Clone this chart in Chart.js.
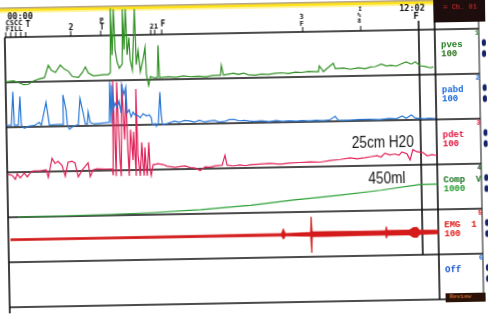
<!DOCTYPE html>
<html>
<head>
<meta charset="utf-8">
<script src="https://cdn.jsdelivr.net/npm/chart.js@4.4.1/dist/chart.umd.min.js"></script>
<style>
  html, body { margin: 0; padding: 0; background: #fff; overflow: hidden; }
  #sheet { position: absolute; left: 0; top: 0; width: 488px; height: 314px;
           transform: rotate(-1.05deg); transform-origin: 244px 157px; }
  #sheet canvas { position: absolute; left: 0; top: 0; }
  .t { position: absolute; white-space: pre; line-height: 1; font-weight: bold;
       font-family: "Liberation Mono", monospace; }
  .h { font-family: "DejaVu Sans Mono", monospace; color: #111; }
  .note { position: absolute; white-space: pre; line-height: 17px; font-size: 17px;
          font-family: "Liberation Sans", sans-serif; color: #151515;
          transform: scaleX(0.8); transform-origin: 0 0; }
</style>
</head>
<body>
<div id="sheet">
  <canvas id="trace" width="488" height="314"></canvas>
</div>
<script>
// time axis = seconds-ish from start of filling, one unit per trace pixel
const pvesT = [0,8,13,18,23,27,33,39,43,46, 50,55,59,63,67,73,77,80,83,88,
  98,103,105,106,107,109,110,112,114,117, 118,119,121,122,124,125,127,130,131,133,
  135,138,140,141,143,145,149,152,153,154, 163,170,178,185,193,200,208,215,216,218,
  223,228,233,238,243,250,256,263,270,276, 283,290,296,303,313,314,318,325,328,330,
  338,345,353,360,365,370,376,381,386,391, 396,401,406,410,415,420,425,428];
const pvesV = [1,3,-1,-6,-5,1,6,9,36,25, 20,36,27,22,10,8,19,31,17,11,
  13,13,18,160,56,158,68,40,27,36, 158,68,158,56,95,45,22,158,34,65,
  18,47,72,11,-13,7,4,4,76,4, 6,4,7,5,6,4,7,7,29,7,
  9,11,8,11,7,6,8,7,9,10, 8,11,10,12,11,24,11,24,29,17,
  18,15,18,16,19,20,25,21,22,20, 25,29,24,29,20,18,15,17];

const pabdT = [0,5,7,8,12,14,15,18,23,28, 33,35,40,42,43,51,56,57,60,61,
  63,67,72,74,77,79,81,82,84,88, 98,103,104,105,106,107,109,111,113,115,
  116,118,120,121,123,125,127,129,131,134, 137,140,143,145,146,149,150,152,154,155,
  156,161,168,173,178,183,188,193,198,203, 208,213,218,223,228,233,238,243,248,255,
  263,270,276,283,290,296,303,310,316,323, 329,332,343,353,363,373,383,390,396,400,
  405,409,413,418,423,429];
const pabdV = [4,4,79,4,4,68,4,-3,2,3, 10,3,54,22,3,4,4,70,36,4,
  -7,0,3,61,29,4,4,31,7,4, 6,7,97,4,90,34,50,40,54,27,
  90,68,85,27,34,18,29,22,22,16, 25,20,22,16,0,2,-4,2,72,22,
  0,2,7,4,8,7,4,8,4,6, 7,3,4,8,8,5,6,4,3,4,
  2,4,2,3,2,3,2,3,2,3, 11,2,2,3,3,2,4,3,9,4,
  11,4,3,2,3,2];

const pdetT = [0,5,8,10,13,17,20,23,26,33, 39,41,45,48,51,55,58,61,65,68,
  71,75,81,83,86,90,98,105,106,107, 109,111,113,114,116,118,120,121,122,124,
  126,127,129,130,131,133,135,136,137,138, 139,140,142,143,144,146,151,156,160,168,
  173,178,183,188,193,198,203,208,215,218, 220,226,233,238,243,253,263,273,283,293,
  303,313,323,333,343,350,358,364,370,374, 378,383,388,392,395,400,403,406,410,416,
  420,425,430];
const pdetV = [-4,-7,-16,-4,-13,-2,-11,-2,2,2, 4,-13,29,18,22,13,-11,20,22,18,
  -13,2,18,-13,2,4,3,3,-11,200, -13,196,22,-13,191,68,175,45,-13,90,
  22,85,-13,180,34,-13,61,11,-13,50, 11,-13,61,0,-13,11,13,11,7,4,
  6,7,3,2,-4,4,3,6,7,29, 7,5,7,5,7,8,9,7,9,10,
  11,10,13,15,18,16,18,20,22,19, 27,23,25,22,29,25,11,34,29,27,
  20,22,20];

const compT = [10,53,103,143,193,243,286,333,373,413,430];
const compV = [0,9,18,36,72,135,216,288,360,450,450];   // ml

const emgT  = [2,93,143,193,243,273,275,277,298,302,303,304,323,353,377,378,379,401,405,409,411,430];
const emgHi = [4,4,5,5,6,6,27,6,8,8,78,11,11,10,10,28,11,11,22,22,10,8];
const emgLo = [-4,-4,-5,-5,-6,-6,-20,-6,-8,-8,-82,-11,-11,-10,-10,-24,-11,-11,-22,-22,-10,-8];

const eventT = 414;   // 12:02 marker
const markT = [1,6,11,16,21,66,96,146,150,157,298,356];

const laneIds = ['y1','y2','y3','y4','y5','y6'];
const chNames = ['pves','pabd','pdet','Comp  V','EMG  1','Off'];
const chRanges = ['100','100','100','1000','100',''];
const chColors = ['#1f7d1f','#1565d8','#e0103c','#17701f','#e01616','#1a55cc'];
const chRangeColors = ['#266d16','#1565d8','#e0103c','#1f9a2a','#e01616',''];
const chNumColors = ['#1f8a1f','#1a6ad8','#e0103c','#1a4a1a','#e01616','#1a6ad8'];

function pts(t, v) { return t.map((x, i) => ({x: x, y: v[i]})); }

const frame = {
  id: 'frame',
  beforeDatasetsDraw(chart) {
    const {ctx, chartArea: a, scales} = chart;
    const panelR = 481;
    ctx.save();
    // yellow paper edge at top
    ctx.fillStyle = '#6b4a12'; ctx.fillRect(0, 3.5, a.right, 1);
    ctx.fillStyle = '#ffe21a'; ctx.fillRect(0, 4.5, a.right, 3);
    ctx.fillStyle = '#fff7a8'; ctx.fillRect(0, 7.5, a.right, 1.5);
    ctx.fillStyle = '#1e0d0d'; ctx.fillRect(a.right - 1, -6, 60, 32);

    ctx.strokeStyle = '#111';
    ctx.lineWidth = 1.6;
    ctx.beginPath();
    ctx.moveTo(a.left, a.top); ctx.lineTo(panelR, a.top);
    laneIds.forEach(id => {
      const y = scales[id].bottom;
      ctx.moveTo(a.left, y); ctx.lineTo(panelR, y);
    });
    ctx.moveTo(a.left, a.top); ctx.lineTo(a.left, a.bottom + 6);
    ctx.moveTo(a.right, 26); ctx.lineTo(a.right, a.bottom);
    const ex = scales.x.getPixelForValue(eventT);
    ctx.moveTo(ex, 24); ctx.lineTo(ex, scales.y5.bottom);
    ctx.stroke();

    ctx.lineWidth = 1;
    ctx.beginPath();
    ctx.moveTo(panelR, 26); ctx.lineTo(panelR, a.bottom);
    markT.forEach(m => {
      const mx = scales.x.getPixelForValue(m);
      ctx.moveTo(mx, a.top - 5); ctx.lineTo(mx, a.top);
    });
    ctx.stroke();
    ctx.restore();
  },
  afterDraw(chart) {
    const {ctx, chartArea: a, scales} = chart;
    ctx.save();
    ctx.fillStyle = '#16246a';
    laneIds.forEach(id => {
      const top = scales[id].top;
      [14, 25].forEach(dy => {
        ctx.beginPath();
        ctx.ellipse(486, top + dy, 2.2, 3.6, 0, 0, Math.PI * 2);
        ctx.fill();
      });
    });
    ctx.fillStyle = '#2a1208';
    ctx.fillRect(443, a.bottom - 6, 40, 9);
    ctx.restore();
  }
};

const laneScale = (min, max) => ({type: 'linear', position: 'right', stack: 'lanes',
  min: min, max: max, display: false});

const chart = new Chart('trace', {
  type: 'line',
  data: {
    datasets: [
      {label: 'pves', data: pts(pvesT, pvesV), yAxisID: 'y1', borderColor: '#2f8f22'},
      {label: 'pabd', data: pts(pabdT, pabdV), yAxisID: 'y2', borderColor: '#2a78d8'},
      {label: 'pdet', data: pts(pdetT, pdetV), yAxisID: 'y3', borderColor: '#e0245a'},
      {label: 'Comp V', data: pts(compT, compV), yAxisID: 'y4', borderColor: '#2aa036'},
      {label: 'EMG hi', data: pts(emgT, emgHi), yAxisID: 'y5', borderColor: '#d41a1a',
        backgroundColor: '#d41a1a', fill: '+1', borderWidth: 0.7},
      {label: 'EMG lo', data: pts(emgT, emgLo), yAxisID: 'y5', borderColor: '#d41a1a', borderWidth: 0.7}
    ]
  },
  options: {
    responsive: false,
    animation: false,
    events: [],
    layout: {padding: {left: 7, right: 51, top: 33, bottom: 11}},
    datasets: {line: {clip: false}},
    elements: {
      point: {radius: 0},
      line: {borderWidth: 1.2, tension: 0}
    },
    scales: {
      x: {type: 'linear', min: 0, max: 430, display: false},
      y1: laneScale(0, 100),
      y2: laneScale(0, 100),
      y3: laneScale(0, 100),
      y4: laneScale(0, 800),
      y5: laneScale(-100, 100),
      y6: laneScale(0, 100)
    },
    plugins: {legend: {display: false}, tooltip: {enabled: false}}
  },
  plugins: [frame]
});

const sheet = document.getElementById('sheet');
function addText(txt, x, y, size, color, cls) {
  const d = document.createElement('div');
  d.className = cls || 't';
  d.textContent = txt;
  d.style.left = x + 'px';
  d.style.top = y + 'px';
  if (size) d.style.fontSize = size + 'px';
  if (color) d.style.color = color;
  sheet.appendChild(d);
}

laneIds.forEach((id, i) => {
  const top = chart.scales[id].top;
  addText(String(i + 1), 477, top + 1, 7, chNumColors[i]);
  addText(chNames[i], 443, top + 12, 9, chColors[i]);
  if (chRanges[i]) addText(chRanges[i], 443, top + 20.5, 9, chRangeColors[i]);
});

[
  ['00:00', 10, 8, 8.5], ['CSCC', 8, 16, 7], ['FILL', 8, 21.5, 7], ['T', 28, 17, 8],
  ['2', 71, 21, 8], ['P', 102, 15, 7], ['T', 102, 21, 8], ['21', 152, 22, 7],
  ['F', 163, 19, 8], ['3', 302, 15, 7], ['F', 302, 22, 7], ['I', 361, 8, 6],
  ['%', 360, 14, 6], ['8', 360, 20, 6], ['12:02', 402, 7, 8.5], ['F', 416, 15, 9]
].forEach(h => addText(h[0], h[1], h[2], h[3], null, 't h'));

addText('= Ch. 01', 446, 8, 7, '#a02424');
addText('Review', 447, chart.chartArea.bottom - 5.5, 6, '#c8642e');
addText('25cm H20', 352, 136, null, null, 'note');
addText('450ml', 368, 172, null, null, 'note');
</script>
</body>
</html>
